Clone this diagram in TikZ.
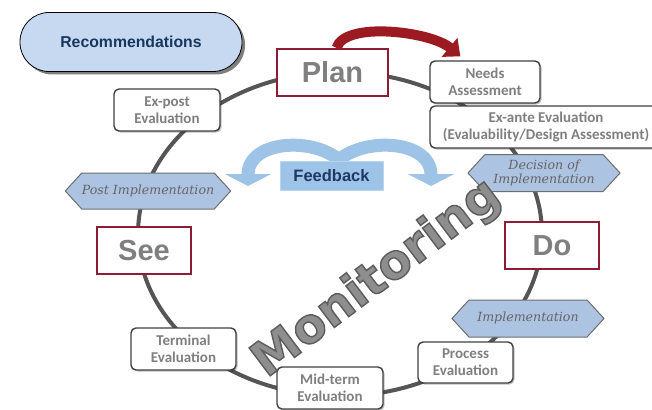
\documentclass[tikz,border=0pt]{standalone}
\usepackage{fontspec}
\setmainfont{Carlito}
\newfontfamily\headfont{Liberation Sans}
\newfontfamily\hexfont{DejaVu Serif}
\newfontfamily\monfont{DejaVu Sans}
\usetikzlibrary{shapes.symbols,shadows,arrows.meta}

\definecolor{ringgray}{HTML}{555555}
\definecolor{boxline}{HTML}{404040}
\definecolor{labelgray}{HTML}{7F7F7F}
\definecolor{phasered}{HTML}{8C1D35}
\definecolor{hexblue}{HTML}{ADC3E2}
\definecolor{hexline}{HTML}{6D6D6D}
\definecolor{hextext}{HTML}{656565}
\definecolor{fbblue}{HTML}{9DC3E6}
\definecolor{fbtext}{HTML}{1F3864}
\definecolor{recfill}{HTML}{C6D9F1}
\definecolor{rectext}{HTML}{17375E}
\definecolor{arrowred}{HTML}{9C1B22}
\definecolor{montext}{HTML}{8E8E8E}

% outlined letters (fill, then stroke in dark gray)
\newcommand\outlined[1]{\special{pdf:literal direct q 2 Tr 1.4 w 0.36 0.36 0.36 RG}#1\special{pdf:literal direct Q}}

\begin{document}
\begin{tikzpicture}[x=1pt, y=-1pt,
  ring/.style={draw=ringgray, line width=4pt},
  evalbox/.style={draw=boxline, line width=1.4pt, rounded corners=5pt, fill=white,
    text=labelgray, align=center, inner sep=0pt,
    font=\bfseries\fontsize{15}{17}\selectfont,
    drop shadow={shadow xshift=1.5pt, shadow yshift=-1.5pt, fill=black, opacity=0.25}},
  phasebox/.style={draw=phasered, line width=2pt, fill=white, text=labelgray,
    inner sep=0pt, minimum height=47pt, font=\headfont\bfseries\fontsize{29}{32}\selectfont},
  stagehex/.style={shape=signal, signal to=east and west, signal pointer angle=95,
    fill=hexblue, draw=hexline, line width=1pt, text=hextext, align=center,
    inner sep=0pt, font=\hexfont\itshape\fontsize{12.6}{14}\selectfont},
  monitor/.style={rotate=37, text=montext, font=\monfont\bfseries\fontsize{48}{48}\selectfont},
  fbarrow/.style={draw=fbblue, line width=13pt, -{Triangle[length=12pt, width=46pt]}}]
 \useasboundingbox (0,0) rectangle (652,409);

 % The cycle
 \draw[ring] (340,234) ellipse [x radius=202pt, y radius=162pt];

 % Feedback arrows
 \coordinate (fbleft) at (248,186);
 \coordinate (fbright) at (431,186);
 \coordinate (fbstartl) at (345,166);
 \coordinate (fbstartr) at (333,166);
 \draw[fbarrow] (fbstartl) .. controls (322,136) and (248,138) .. (fbleft);
 \draw[fbarrow] (fbstartr) .. controls (356,136) and (431,138) .. (fbright);
 \node[fill=fbblue, draw=fbblue!70!white, text=fbtext, minimum width=103pt, minimum height=29pt,
   inner sep=0pt, font=\headfont\bfseries\fontsize{16.5}{18}\selectfont] (feedback) at (331.5,175.5) {Feedback};

 % Recommendations
 \node[draw=black, line width=0.8pt, fill=recfill, rounded corners=29pt, text=rectext,
   minimum width=222pt, minimum height=59pt, inner sep=0pt,
   font=\headfont\bfseries\fontsize{15.8}{17}\selectfont,
   drop shadow={shadow xshift=3pt, shadow yshift=-3pt, fill=black, opacity=0.5}] (recs) at (131,42) {Recommendations};

 % Plan, Do, See
 \node[phasebox, minimum width=111pt] (plan) at (332.5,72.5) {Plan};
 \node[phasebox, minimum width=94pt] (do) at (552,245.5) {Do};
 \node[phasebox, minimum width=94pt] (see) at (144,250.5) {See};

 % Evaluations
 \node[evalbox, minimum width=106pt, minimum height=42pt] (expost) at (167,110) {Ex-post\\Evaluation};
 \node[evalbox, minimum width=110pt, minimum height=42pt] (needs) at (485,82) {Needs\\Assessment};
 \node[evalbox, minimum width=232pt, minimum height=42pt] (exante) at (546,127) {Ex-ante Evaluation\\(Evaluability/Design Assessment)};
 \node[evalbox, minimum width=95pt, minimum height=41pt] (process) at (465.5,362.5) {Process\\Evaluation};
 \node[evalbox, minimum width=106pt, minimum height=42pt] (midterm) at (330,388) {Mid-term\\Evaluation};
 \node[evalbox, minimum width=105pt, minimum height=42pt] (terminal) at (183.5,349) {Terminal\\Evaluation};

 % Stages
 \node[stagehex, minimum width=152pt, minimum height=37pt] (decision) at (544,173) {Decision of\\Implementation};
 \node[stagehex, minimum width=152pt, minimum height=37pt] (implem) at (528,318.5) {Implementation};
 \node[stagehex, minimum width=150pt, minimum height=36pt] (postimpl) at (148,191) {Post Implementation};

 % Plan to Needs Assessment
 \draw[draw=arrowred, line width=10pt, -{Triangle[length=14pt, width=24pt]}]
   ([xshift=4pt]plan.north) .. controls +(8,-27) and +(-30,-25) .. ([xshift=31pt, yshift=4pt]needs.north west);

 % Monitoring
 \node[monitor] (monitoring) at (377,279) {\outlined{Monitoring}};
\end{tikzpicture}
\end{document}
